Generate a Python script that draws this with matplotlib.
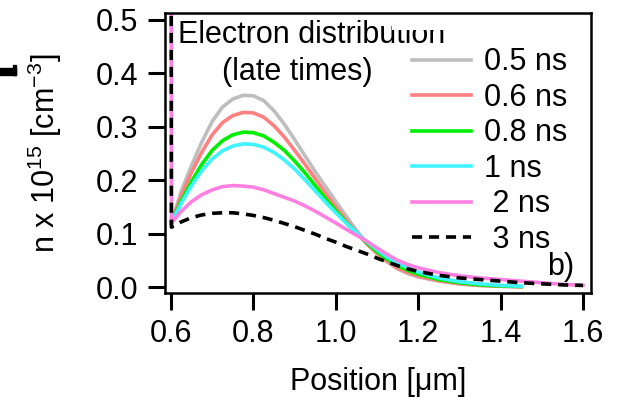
import matplotlib
matplotlib.use("Agg")
import matplotlib.pyplot as plt
from matplotlib.patches import Rectangle

plt.rcParams["font.family"] = ["Liberation Sans", "DejaVu Sans"]
plt.rcParams["mathtext.fontset"] = "custom"
plt.rcParams["mathtext.rm"] = "Liberation Sans"
plt.rcParams["mathtext.it"] = "Liberation Sans"
plt.rcParams["mathtext.bf"] = "Liberation Sans"
plt.rcParams["font.size"] = 22

# positions in um (first point is the boundary at 0.6 um)
pos = [0.6, 0.601, 0.625, 0.65, 0.675, 0.70, 0.725, 0.75, 0.775, 0.80, 0.825,
       0.85, 0.875, 0.90, 0.925, 0.95, 0.975, 1.0, 1.025, 1.05, 1.075,
       1.1, 1.125, 1.15, 1.175, 1.2, 1.25, 1.3, 1.35, 1.4, 1.45]
pos_long = pos + [1.5, 1.55, 1.6]

# electron density, units of 1e15 cm^-3
n_05 = [0.12, 0.12, 0.18, 0.228, 0.272, 0.310, 0.337, 0.352, 0.359, 0.358, 0.349,
        0.330, 0.305, 0.276, 0.246, 0.216, 0.188, 0.160, 0.133, 0.106, 0.082,
        0.063, 0.047, 0.034, 0.025, 0.019, 0.011, 0.006, 0.003, 0.0015, 0.0005]
n_06 = [0.12, 0.12, 0.172, 0.215, 0.253, 0.285, 0.308, 0.321, 0.327, 0.326, 0.318,
        0.302, 0.281, 0.256, 0.230, 0.203, 0.176, 0.150, 0.125, 0.102, 0.081,
        0.063, 0.048, 0.035, 0.027, 0.020, 0.012, 0.006, 0.003, 0.0015, 0.0005]
n_08 = [0.12, 0.12, 0.162, 0.198, 0.230, 0.256, 0.274, 0.285, 0.290, 0.289, 0.283,
        0.271, 0.256, 0.236, 0.214, 0.190, 0.166, 0.143, 0.121, 0.101, 0.083,
        0.066, 0.052, 0.040, 0.031, 0.024, 0.014, 0.008, 0.004, 0.002, 0.001]
n_1 = [0.12, 0.12, 0.157, 0.190, 0.218, 0.240, 0.255, 0.264, 0.268, 0.267, 0.262,
       0.252, 0.238, 0.221, 0.201, 0.180, 0.159, 0.139, 0.120, 0.102, 0.085,
       0.070, 0.056, 0.045, 0.036, 0.028, 0.017, 0.010, 0.006, 0.003, 0.0015]
n_2 = [1.0, 0.12, 0.142, 0.160, 0.173, 0.182, 0.188, 0.190, 0.189, 0.187, 0.182,
       0.175, 0.168, 0.161, 0.152, 0.142, 0.131, 0.120, 0.108, 0.097, 0.086,
       0.073, 0.061, 0.050, 0.042, 0.036, 0.027, 0.021, 0.017, 0.014, 0.011,
       0.008, 0.005, 0.003]
n_3 = [1.0, 0.112, 0.122, 0.130, 0.135, 0.138, 0.139, 0.139, 0.137, 0.134, 0.130,
       0.125, 0.119, 0.113, 0.106, 0.099, 0.091, 0.084, 0.076, 0.069, 0.062,
       0.054, 0.047, 0.040, 0.034, 0.029, 0.022, 0.017, 0.014, 0.011, 0.008,
       0.006, 0.004, 0.003]

fig = plt.figure(figsize=(6.21, 4.0), dpi=100)
ax = fig.add_axes([165 / 621, 1 - 293 / 400, 426 / 621, 280 / 400])

lw = 2.6
ax.plot(pos, n_05, color="#bebebe", lw=lw, label="0.5 ns")
ax.plot(pos, n_06, color="#ff8080", lw=lw, label="0.6 ns")
ax.plot(pos, n_08, color="#00ee00", lw=lw, label="0.8 ns")
ax.plot(pos, n_1, color="#40f4ff", lw=lw, label="1 ns")
ax.plot(pos_long, n_2, color="#ff80e0", lw=lw, label=" 2 ns")
ax.plot(pos_long, n_3, color="black", lw=lw, ls=(0, (2.8, 1.9)), label=" 3 ns")

ax.set_xlim(0.5854, 1.6194)
ax.set_ylim(-0.0112, 0.5131)
ax.set_xticks([0.6, 0.8, 1.0, 1.2, 1.4, 1.6])
ax.set_xticklabels(["0.6", "0.8", "1.0", "1.2", "1.4", "1.6"])
ax.set_yticks([0.0, 0.1, 0.2, 0.3, 0.4, 0.5])
ax.set_yticklabels(["0.0", "0.1", "0.2", "0.3", "0.4", "0.5"])
ax.tick_params(direction="out", length=12, width=2.2, pad=7, labelsize=22)
for sp in ax.spines.values():
    sp.set_linewidth(1.8)

ax.set_xlabel("Position [\u03bcm]", fontsize=22)
ax.xaxis.set_label_coords(0.5, -0.265)
ax.set_ylabel(r"n x 10$^{15}$ [cm$^{-3}$]", fontsize=22)
ax.yaxis.set_label_coords(-0.237, 0.5)

ax.text(0.0305, 0.893, "Electron distribution", transform=ax.transAxes,
        fontsize=22, va="baseline", ha="left", zorder=3)
ax.text(0.134, 0.761, "(late times)", transform=ax.transAxes,
        fontsize=22, va="baseline", ha="left")
ax.text(0.897, 0.064, "b)", transform=ax.transAxes,
        fontsize=22, va="baseline", ha="left")

# white block over the top of the title where the key box sits
ax.add_patch(Rectangle((0.533, 0.939), 0.19, 0.05, transform=ax.transAxes,
                       facecolor="white", edgecolor="none", zorder=4))

leg = ax.legend(loc="upper left", bbox_to_anchor=(0.54, 0.939),
                borderaxespad=0, borderpad=0.57, handlelength=1.93,
                handletextpad=0.42, labelspacing=0.18, fontsize=22,
                frameon=False)

# small leftover mark at the upper left edge
fig.patches.append(Rectangle((0, 1 - 75 / 400), 16 / 621, 7 / 400,
                             transform=fig.transFigure, color="black"))
fig.patches.append(Rectangle((13 / 621, 1 - 75 / 400), 3 / 621, 10 / 400,
                             transform=fig.transFigure, color="black"))

fig.savefig("out.png", dpi=100)
